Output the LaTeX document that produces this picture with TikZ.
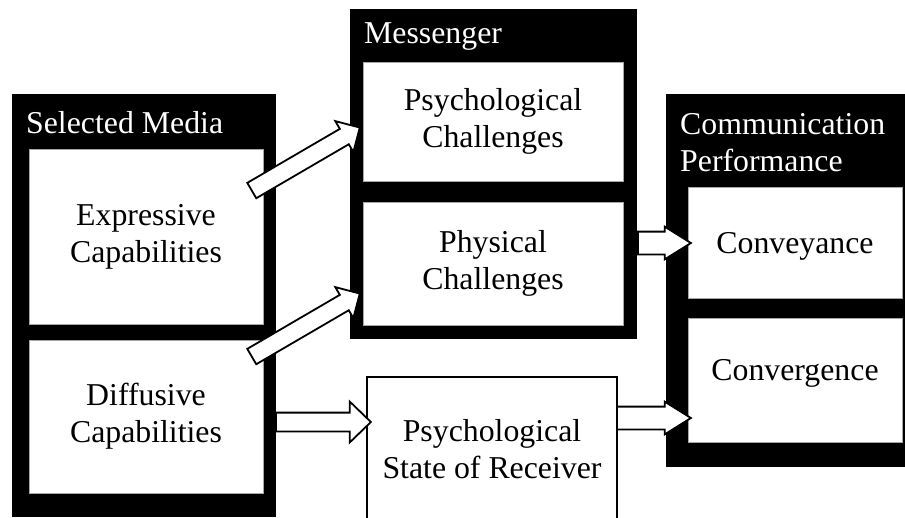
\documentclass[tikz,border=0pt]{standalone}
\usepackage{fontspec}
\setmainfont{Liberation Serif}
\usetikzlibrary{shapes.arrows,calc}

\tikzset{
  panel/.style={fill=black},
  cell/.style={fill=white, draw=black!35, line width=0.5pt, inner sep=0pt, align=center},
  headtext/.style={text=white, inner sep=0pt, align=left},
  fatarrow/.style={single arrow, draw=black, fill=white, line width=1.8pt, inner sep=0pt,
    text height=#1, text depth=0pt, minimum width=0pt},
  riseArrow/.style={fatarrow=16pt, single arrow head extend=9pt, single arrow tip angle=90},
  flatArrow/.style={fatarrow=17pt, single arrow head extend=11pt, single arrow tip angle=88},
  stubArrow/.style={fatarrow=21pt, single arrow head extend=5pt, single arrow tip angle=64},
}

\begin{document}
\begin{tikzpicture}[x=1pt,y=-1pt,every node/.style={font=\fontsize{31.8}{37}\selectfont}]
\useasboundingbox (0,0) rectangle (905,517);
\clip (0,0) rectangle (905,517);

% black frames
\fill[panel] (12,94) rectangle (276,517);
\fill[panel] (350,9) rectangle (637,339);
\fill[panel] (666,94) rectangle (905,467);

\node[headtext, anchor=base west] (mediahead) at (26,133) {Selected Media};
\node[headtext, anchor=base west] (messhead) at (364,43) {Messenger};
\node[headtext, anchor=north west] (commhead) at (680,113) {Communication\\Performance};

% boxes
\node[cell, minimum width=234, minimum height=175] (expr) at (146,236.5) {Expressive\\Capabilities};
\node[cell, minimum width=234, minimum height=153] (diff) at (146,416.5) {Diffusive\\Capabilities};
\node[cell, minimum width=260, minimum height=119] (psych) at (493,121.5) {Psychological\\Challenges};
\node[cell, minimum width=260, minimum height=123] (phys) at (493,263.5) {Physical\\Challenges};
\node[cell, draw=black, line width=2.2pt, minimum width=250, minimum height=145] (recv) at (492,449.5) {Psychological\\State of Receiver};
\node[cell, minimum width=214, minimum height=111] (convey) at (795,242.5) {\raisebox{-10.5pt}[0pt][0pt]{Conveyance}};
\node[cell, minimum width=214, minimum height=124] (converge) at (795,380) {\raisebox{0pt}[0pt][0pt]{Convergence}};

% arrows
\coordinate (t1) at (251,191); \coordinate (h1) at (359,128);
\coordinate (t2) at (251,357); \coordinate (h2) at (359,294);
\coordinate (t3) at (275,422); \coordinate (h3) at (370,422);
\coordinate (t4) at (637,243); \coordinate (h4) at (690,243);
\coordinate (t5) at (616,418); \coordinate (h5) at (690,418);

\path let \p1=($(h1)-(t1)$), \n1={veclen(\x1,\y1)} in (t1) -- (h1) node[pos=0, sloped, anchor=tail, riseArrow, minimum height=\n1] (a1) {};
\path let \p1=($(h2)-(t2)$), \n1={veclen(\x1,\y1)} in (t2) -- (h2) node[pos=0, sloped, anchor=tail, riseArrow, minimum height=\n1] (a2) {};
\path let \p1=($(h3)-(t3)$), \n1={veclen(\x1,\y1)} in (t3) -- (h3) node[pos=0, sloped, anchor=tail, flatArrow, minimum height=\n1] (a3) {};
\path let \p1=($(h4)-(t4)$), \n1={veclen(\x1,\y1)} in (t4) -- (h4) node[pos=0, sloped, anchor=tail, stubArrow, minimum height=\n1] (a4) {};
\path let \p1=($(h5)-(t5)$), \n1={veclen(\x1,\y1)} in (t5) -- (h5) node[pos=0, sloped, anchor=tail, stubArrow, minimum height=\n1] (a5) {};
\end{tikzpicture}
\end{document}
